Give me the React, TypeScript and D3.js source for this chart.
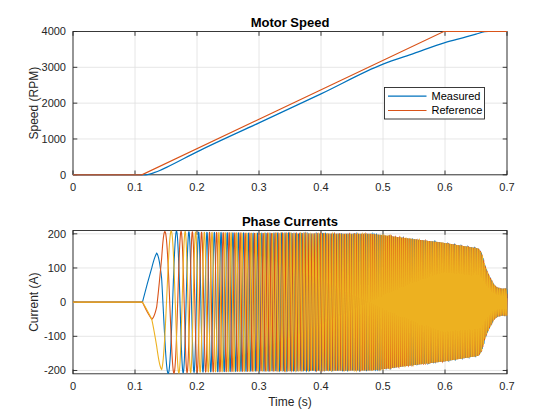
import React, { useMemo } from "react";
import * as d3 from "d3";

// ---------- data ----------
const xTicks = [0, 0.1, 0.2, 0.3, 0.4, 0.5, 0.6, 0.7];
const speedTicks = [0, 1000, 2000, 3000, 4000];
const currentTicks = [-200, -100, 0, 100, 200];

// Reference speed (RPM)
const refSpeedT = [0, 0.111, 0.598, 0.7];
const refSpeedV = [0, 0, 4000, 4000];

// Measured speed (RPM)
const measSpeedT = [0, 0.115, 0.12, 0.125, 0.13, 0.14, 0.15, 0.2, 0.3, 0.4, 0.5, 0.55, 0.6, 0.63, 0.65, 0.664, 0.67, 0.7];
const measSpeedV = [0, 0, 5, 25, 55, 120, 200, 640, 1450, 2260, 3090, 3390, 3690, 3830, 3925, 3995, 4000, 4000];

// Phase-current amplitude envelope (A)
const envT = [0, 0.112, 0.12, 0.127, 0.135, 0.143, 0.15, 0.2, 0.3, 0.48, 0.5, 0.533, 0.6, 0.654, 0.659, 0.664, 0.67, 0.678, 0.686, 0.7];
const envA = [0, 0, 55, 100, 158, 200, 209, 205, 201, 200, 196, 188, 173, 157, 144, 110, 81, 51, 39, 37];

// Electrical angle during start-up (degrees), read from the first peaks
const startT = [0.112, 0.127, 0.135, 0.143, 0.148];
const startDeg = [85, 90, 115, 160, 210];

// electrical cycles per mechanical revolution (fit to the peak spacing)
const elecPerMech = 5.53;
const sampleStep = 5e-5;
const tEnd = 0.7;

const seriesNames = ["Measured", "Reference"];
const colors = ["#0072BD", "#D95319", "#EDB120"];

// ---------- layout ----------
const W = 560;
const H = 420;
const left = 73;
const right = 507;
const top1 = 31.5;
const bot1 = 174.8;
const top2 = 230.5;
const bot2 = 373.8;
const axisColor = "#262626";
const gridColor = "#dfdfdf";
const font = "'Liberation Sans', Arial, Helvetica, sans-serif";

type Pt = [number, number];

function buildCurrents() {
  const env = d3.scaleLinear<number>().domain(envT).range(envA).clamp(true);
  const startAng = d3.scaleLinear<number>().domain(startT).range(startDeg).clamp(true);
  const ref = d3.scaleLinear<number>().domain(refSpeedT).range(refSpeedV).clamp(true);
  const a: Pt[] = [], b: Pt[] = [], c: Pt[] = [];
  const tSwitch = startT[startT.length - 1];
  let theta = startDeg[startDeg.length - 1];
  const n = Math.round(tEnd / sampleStep);
  for (let i = 0; i <= n; i++) {
    const t = i * sampleStep;
    let th: number;
    if (t <= tSwitch) {
      th = t < startT[0] ? startDeg[0] : startAng(t);
    } else {
      theta += (360 * elecPerMech / 60) * ref(t) * sampleStep;
      th = theta;
    }
    const A = env(t);
    const r = (th * Math.PI) / 180;
    a.push([t, A * Math.sin(r)]);
    b.push([t, A * Math.sin(r - (2 * Math.PI) / 3)]);
    c.push([t, A * Math.sin(r + (2 * Math.PI) / 3)]);
  }
  return [a, b, c];
}

function Axes(props: {
  x: d3.ScaleLinear<number, number>;
  y: d3.ScaleLinear<number, number>;
  yTicks: number[];
  title: string;
  ylabel: string;
  xlabel?: string;
  top: number;
  bottom: number;
  children?: React.ReactNode;
  clipId: string;
}) {
  const { x, y, yTicks, title, ylabel, xlabel, top, bottom, children, clipId } = props;
  const tl = 4.3;
  const m = 1.5;
  return (
    <g>
      <defs>
        <clipPath id={clipId}>
          <rect x={left - m} y={top - m} width={right - left + 2 * m} height={bottom - top + 2 * m} />
        </clipPath>
      </defs>
      <rect x={left} y={top} width={right - left} height={bottom - top} fill="#fff" />
      {xTicks.map((t) => (
        <line key={"gx" + t} x1={x(t)} x2={x(t)} y1={top} y2={bottom} stroke={gridColor} strokeWidth={0.8} />
      ))}
      {yTicks.map((t) => (
        <line key={"gy" + t} x1={left} x2={right} y1={y(t)} y2={y(t)} stroke={gridColor} strokeWidth={0.8} />
      ))}
      <rect x={left} y={top} width={right - left} height={bottom - top} fill="none" stroke={axisColor} strokeWidth={0.9} />
      {xTicks.map((t) => (
        <g key={"tx" + t}>
          <line x1={x(t)} x2={x(t)} y1={bottom} y2={bottom - tl} stroke={axisColor} strokeWidth={0.9} />
          <line x1={x(t)} x2={x(t)} y1={top} y2={top + tl} stroke={axisColor} strokeWidth={0.9} />
          <text x={x(t)} y={bottom + 16.3} textAnchor="middle" fontSize={11} fill={axisColor} fontFamily={font}>
            {String(t)}
          </text>
        </g>
      ))}
      {yTicks.map((t) => (
        <g key={"ty" + t}>
          <line x1={left} x2={left + tl} y1={y(t)} y2={y(t)} stroke={axisColor} strokeWidth={0.9} />
          <line x1={right} x2={right - tl} y1={y(t)} y2={y(t)} stroke={axisColor} strokeWidth={0.9} />
          <text x={left - 7} y={y(t)} dy="0.36em" textAnchor="end" fontSize={11} fill={axisColor} fontFamily={font}>
            {String(t)}
          </text>
        </g>
      ))}
      <g clipPath={`url(#${clipId})`}>{children}</g>
      <text x={(left + right) / 2} y={top - 4.5} textAnchor="middle" fontSize={13} fontWeight="bold" fill="#000" fontFamily={font}>
        {title}
      </text>
      <text
        transform={`translate(37.5,${(top + bottom) / 2}) rotate(-90)`}
        textAnchor="middle"
        fontSize={12}
        fill={axisColor}
        fontFamily={font}
      >
        {ylabel}
      </text>
      {xlabel && (
        <text x={(left + right) / 2} y={bottom + 32.5} textAnchor="middle" fontSize={12} fill={axisColor} fontFamily={font}>
          {xlabel}
        </text>
      )}
    </g>
  );
}

export default function App() {
  const x = d3.scaleLinear().domain([0, 0.7]).range([left, right]);
  const ySpeed = d3.scaleLinear().domain([0, 4000]).range([bot1, top1]);
  const yCur = d3.scaleLinear().domain([-209.7, 209.7]).range([bot2, top2]);

  const currents = useMemo(buildCurrents, []);

  const measPts: Pt[] = measSpeedT.map((t, i) => [t, measSpeedV[i]]);
  const refPts: Pt[] = refSpeedT.map((t, i) => [t, refSpeedV[i]]);
  const measLine = d3.line<Pt>().x((d) => x(d[0])).y((d) => ySpeed(d[1])).curve(d3.curveMonotoneX);
  const refLine = d3.line<Pt>().x((d) => x(d[0])).y((d) => ySpeed(d[1]));
  const curLine = d3.line<Pt>().x((d) => x(d[0])).y((d) => yCur(d[1]));

  const lgX = 384.5, lgY = 87.5, lgW = 100, lgH = 31.5;

  return (
    <svg width={W} height={H} style={{ position: "absolute", left: 0, top: 0, background: "#fff" }}>
      <rect x={0} y={0} width={W} height={H} fill="#fff" />
      <Axes x={x} y={ySpeed} yTicks={speedTicks} title="Motor Speed" ylabel="Speed (RPM)" top={top1} bottom={bot1} clipId="c1">
        <path d={measLine(measPts) || ""} fill="none" stroke={colors[0]} strokeWidth={1.2} />
        <path d={refLine(refPts) || ""} fill="none" stroke={colors[1]} strokeWidth={1.2} />
      </Axes>
      <g>
        <rect x={lgX} y={lgY} width={lgW} height={lgH} fill="#fff" stroke={axisColor} strokeWidth={0.9} />
        {seriesNames.map((name, i) => {
          const yy = lgY + 8.7 + i * 14.3;
          return (
            <g key={name}>
              <line x1={lgX + 3.5} x2={lgX + 42} y1={yy} y2={yy} stroke={colors[i]} strokeWidth={1.2} />
              <text x={lgX + 47} y={yy} dy="0.36em" fontSize={11} fill="#000" fontFamily={font}>
                {name}
              </text>
            </g>
          );
        })}
      </g>
      <Axes x={x} y={yCur} yTicks={currentTicks} title="Phase Currents" ylabel="Current (A)" xlabel="Time (s)" top={top2} bottom={bot2} clipId="c2">
        {currents.map((pts, i) => (
          <path key={i} d={curLine(pts) || ""} fill="none" stroke={colors[i]} strokeWidth={1.1} />
        ))}
      </Axes>
    </svg>
  );
}
